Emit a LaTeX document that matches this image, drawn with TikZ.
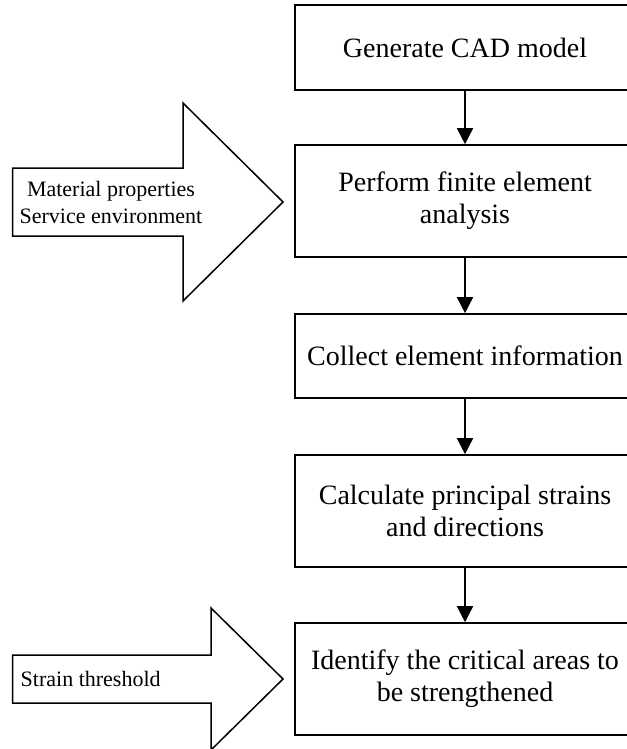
\documentclass[tikz,border=0pt]{standalone}
\usepackage{fontspec}
\setmainfont{Liberation Serif}
\usetikzlibrary{arrows.meta, positioning}

\tikzset{
  stepbox/.style={draw, line width=1.6pt, minimum width=340pt, align=center,
    font=\fontsize{28}{32}\selectfont},
  flow/.style={-{Triangle[length=16pt,width=16pt]}, line width=1.5pt},
  bigarrow/.style={draw, line width=1.5pt, line join=miter},
  inputtext/.style={font=\fontsize{22}{27}\selectfont, inner sep=0pt},
}

\begin{document}
\begin{tikzpicture}[x=1pt, y=-1pt]
\useasboundingbox (0,0) rectangle (626,749);
\def\cx{465}

% process steps
\node[stepbox, minimum height=85pt] (cad) at (\cx,47.5) {Generate CAD model};
\node[stepbox, minimum height=112pt] (fea) at (\cx,201) {Perform finite element\\analysis};
\node[stepbox, minimum height=84pt] (collect) at (\cx,356) {Collect element information};
\node[stepbox, minimum height=112pt] (strain) at (\cx,511) {Calculate principal strains\\and directions};
\node[stepbox, minimum height=112pt] (critical) at (\cx,679) {Identify the critical areas to\\be strengthened};

\draw[flow] (cad) -- (fea);
\draw[flow] (fea) -- (collect);
\draw[flow] (collect) -- (strain);
\draw[flow] (strain) -- (critical);

% input arrows
\draw[bigarrow] (12.5,168) -- (183,168) -- (183,103) -- (283,202)
  -- (183,301) -- (183,236) -- (12.5,236) -- cycle;
\node[inputtext, align=center] (material) at (111,202) {Material properties\\Service environment};

\draw[bigarrow] (12.5,655) -- (211,655) -- (211,608) -- (283,679)
  -- (211,750) -- (211,703) -- (12.5,703) -- cycle;
\node[inputtext, anchor=west] (threshold) at (20.5,679) {Strain threshold};
\end{tikzpicture}
\end{document}
